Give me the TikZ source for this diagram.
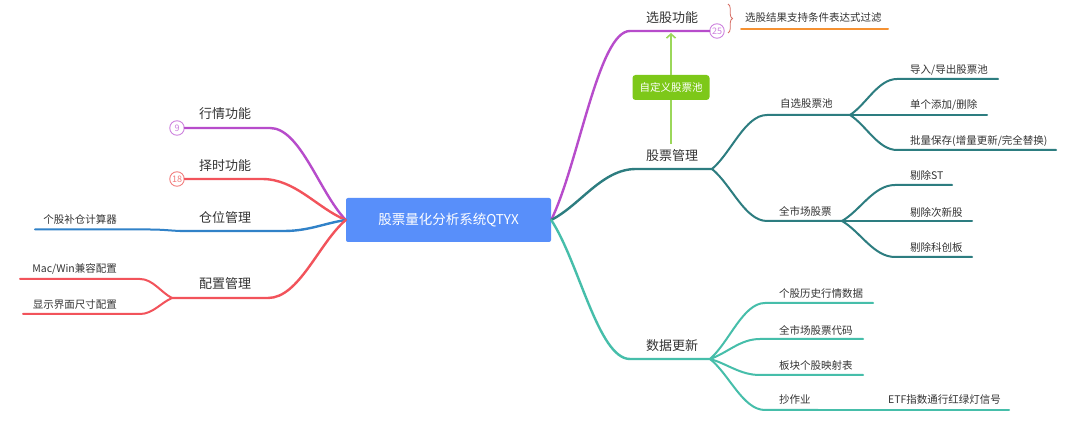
\documentclass[tikz,border=0pt]{standalone}
\usepackage{fontspec}
\setmainfont{Noto Sans CJK SC}
\usetikzlibrary{calc,arrows.meta,decorations.pathreplacing}
\definecolor{txt}{RGB}{51,51,51}
\definecolor{mainblue}{RGB}{88,143,250}
\definecolor{cpurple}{RGB}{183,76,203}
\definecolor{cpurpleL}{RGB}{205,130,222}
\definecolor{cred}{RGB}{242,83,91}
\definecolor{credL}{RGB}{242,125,125}
\definecolor{cblue}{RGB}{49,130,200}
\definecolor{cteal}{RGB}{45,125,128}
\definecolor{clteal}{RGB}{70,190,170}
\definecolor{corange}{RGB}{245,145,50}
\definecolor{cgreen}{RGB}{125,200,25}
\definecolor{cgreenL}{RGB}{155,215,90}
\definecolor{cbrace}{RGB}{215,110,100}
\begin{document}
\begin{tikzpicture}[x=1pt,y=-1pt,
  lbla/.style={font=\fontsize{13}{15}\selectfont, text=txt, inner sep=0pt},
  lblb/.style={font=\fontsize{10.5}{12}\selectfont, text=txt, inner sep=0pt},
  br/.style={line width=2.4pt, line cap=round},
  sb/.style={line width=2pt, line cap=round},
  badge/.style={circle, draw, line width=0.9pt, minimum size=14.5pt, inner sep=0pt, fill=white, font=\fontsize{9}{10}\selectfont},
  mainbox/.style={rectangle, rounded corners=2pt, fill=mainblue, text=white, minimum width=205pt, minimum height=44pt, inner sep=0pt, font=\fontsize{13.5}{15}\selectfont},
  greenbox/.style={rectangle, rounded corners=3pt, fill=cgreen, text=white, minimum width=77pt, minimum height=25pt, inner sep=0pt, font=\fontsize{10.5}{12}\selectfont},
  gline/.style={line width=1.8pt, cgreenL},
  curv/.style={to path={let \p1=(\tikztostart), \p2=(\tikztotarget) in
     .. controls ($(\p1)+({0.35*(\x2-\x1)},{0.3*(\y2-\y1)})$) and ($(\p2)+({-0.4*(\x2-\x1)},0pt)$) .. (\tikztotarget)}}
]
\fill[white] (0,0) rectangle (1080,435);
\useasboundingbox (0,0) rectangle (1080,435);

% root
\node[mainbox] (root) at (448.5,220) {股票量化分析系统QTYX};

% ---------- left ----------
\coordinate (hq-e) at (270,128);
\node[lbla] (hq) at (225,114) {行情功能};
\node[badge, draw=cpurpleL, text=cpurpleL] (hq-b) at (177,128) {9};
\draw[br, cpurple] (root.west) to[curv] (hq-e) -- (hq-b.east);

\coordinate (zs-e) at (262,179);
\node[lbla] (zs) at (225,166) {择时功能};
\node[badge, draw=credL, text=credL] (zs-b) at (177,179) {18};
\draw[br, cred] (root.west) to[curv] (zs-e) -- (zs-b.east);

\coordinate (cw-e) at (284,231);
\coordinate (cw-s) at (180,231);
\node[lbla] (cw) at (225,218) {仓位管理};
\draw[br, cblue] (root.west) to[curv] (cw-e) -- (cw-s);
\coordinate (gb-e) at (150,229.5);
\coordinate (gb-s) at (35,229.5);
\node[lblb, anchor=east] (gb) at (117,219) {个股补仓计算器};
\draw[sb, cblue] (cw-s) to[curv] (gb-e) -- (gb-s);

\coordinate (pz-e) at (268,298);
\coordinate (pz-s) at (172,298);
\node[lbla] (pz) at (225,284) {配置管理};
\draw[br, cred] (root.west) to[curv] (pz-e) -- (pz-s);
\coordinate (mw-e) at (140,279);
\coordinate (mw-s) at (20,279);
\node[lblb, anchor=east] (mw) at (117,269) {Mac/Win兼容配置};
\draw[sb, cred] (pz-s) to[curv] (mw-e) -- (mw-s);
\coordinate (xs-e) at (140,314);
\coordinate (xs-s) at (23,314);
\node[lblb, anchor=east] (xs) at (117,305) {显示界面尺寸配置};
\draw[sb, cred] (pz-s) to[curv] (xs-e) -- (xs-s);

% ---------- right ----------
% 选股功能
\coordinate (xg-s) at (630,31);
\node[lbla] (xg) at (672,18) {选股功能};
\node[badge, draw=cpurpleL, text=cpurpleL] (xg-b) at (717,31) {25};
\draw[br, cpurple] (root.east) to[curv] (xg-s) -- (xg-b.west);
\coordinate (bt) at (728,4);
\coordinate (bb) at (728,33);
\draw[cbrace, line width=0.8pt, decorate, decoration={brace, amplitude=4.5pt}] (bt) -- (bb);
\node[lblb, anchor=west] (sum) at (745,18) {选股结果支持条件表达式过滤};
\coordinate (sum-s) at (741,29);
\coordinate (sum-e) at (888,29);
\draw[sb, corange] (sum-s) -- (sum-e);

% 股票管理
\coordinate (gp-s) at (636,169);
\coordinate (gp-e) at (712,169);
\node[lbla] (gp) at (672,156) {股票管理};
\draw[br, cteal] (root.east) to[curv] (gp-s) -- (gp-e);

% 自定义股票池
\node[greenbox] (zdy) at (671,87.5) {自定义股票池};
\coordinate (xg-t) at (671,33);
\draw[gline] ([yshift=6pt]gp.north -| zdy) -- (zdy.south);
\draw[gline, -{Straight Barb[length=4pt,width=9pt,line width=1.6pt]}] (zdy.north) -- (xg-t);

% 自选股票池
\coordinate (zx-s) at (767,115);
\coordinate (zx-e) at (850,115);
\node[lblb, anchor=west] (zx) at (780,104) {自选股票池};
\draw[sb, cteal] (gp-e) to[curv] (zx-s) -- (zx-e);
\coordinate (dr-s) at (897,79);
\coordinate (dr-e) at (998,79);
\node[lblb, anchor=west] (dr) at (910,70) {导入/导出股票池};
\draw[sb, cteal] (zx-e) to[curv] (dr-s) -- (dr-e);
\coordinate (dg-e) at (987,115);
\node[lblb, anchor=west] (dg) at (910,105) {单个添加/删除};
\draw[sb, cteal] (zx-e) -- (dg-e);
\coordinate (pl-s) at (897,150);
\coordinate (pl-e) at (1056,150);
\node[lblb, anchor=west] (pl) at (910,141) {批量保存(增量更新/完全替换)};
\draw[sb, cteal] (zx-e) to[curv] (pl-s) -- (pl-e);

% 全市场股票
\coordinate (qs-s) at (767,221);
\coordinate (qs-e) at (842,221);
\node[lblb, anchor=west] (qs) at (779,211) {全市场股票};
\draw[sb, cteal] (gp-e) to[curv] (qs-s) -- (qs-e);
\coordinate (st-s) at (895,185);
\coordinate (st-e) at (952,185);
\node[lblb, anchor=west] (st) at (910,175) {剔除ST};
\draw[sb, cteal] (qs-e) to[curv] (st-s) -- (st-e);
\coordinate (cx-e) at (972,221);
\node[lblb, anchor=west] (cx) at (910,212) {剔除次新股};
\draw[sb, cteal] (qs-e) -- (cx-e);
\coordinate (kc-s) at (895,257);
\coordinate (kc-e) at (972,257);
\node[lblb, anchor=west] (kc) at (910,247) {剔除科创板};
\draw[sb, cteal] (qs-e) to[curv] (kc-s) -- (kc-e);

% 数据更新
\coordinate (sj-s) at (630,359);
\coordinate (sj-e) at (710,359);
\node[lbla] (sj) at (672,346) {数据更新};
\draw[br, clteal] (root.east) to[curv] (sj-s) -- (sj-e);
\coordinate (ls-s) at (765,303);
\coordinate (ls-e) at (873,303);
\node[lblb, anchor=west] (ls) at (779,294) {个股历史行情数据};
\draw[sb, clteal] (sj-e) to[curv] (ls-s) -- (ls-e);
\coordinate (dm-s) at (760,339);
\coordinate (dm-e) at (863,339);
\node[lblb, anchor=west] (dm) at (779,330) {全市场股票代码};
\draw[sb, clteal] (sj-e) to[curv] (dm-s) -- (dm-e);
\coordinate (bk-s) at (760,375);
\coordinate (bk-e) at (863,375);
\node[lblb, anchor=west] (bk) at (779,366) {板块个股映射表};
\draw[sb, clteal] (sj-e) to[curv] (bk-s) -- (bk-e);
\coordinate (cz-s) at (765,410);
\coordinate (cz-e) at (818,410);
\node[lblb, anchor=west] (cz) at (779,400) {抄作业};
\draw[sb, clteal] (sj-e) to[curv] (cz-s) -- (cz-e);
\coordinate (etf-e) at (1009,410);
\node[lblb, anchor=west] (etf) at (888,400) {ETF指数通行红绿灯信号};
\draw[sb, clteal] (cz-e) -- (etf-e);
\end{tikzpicture}
\end{document}
